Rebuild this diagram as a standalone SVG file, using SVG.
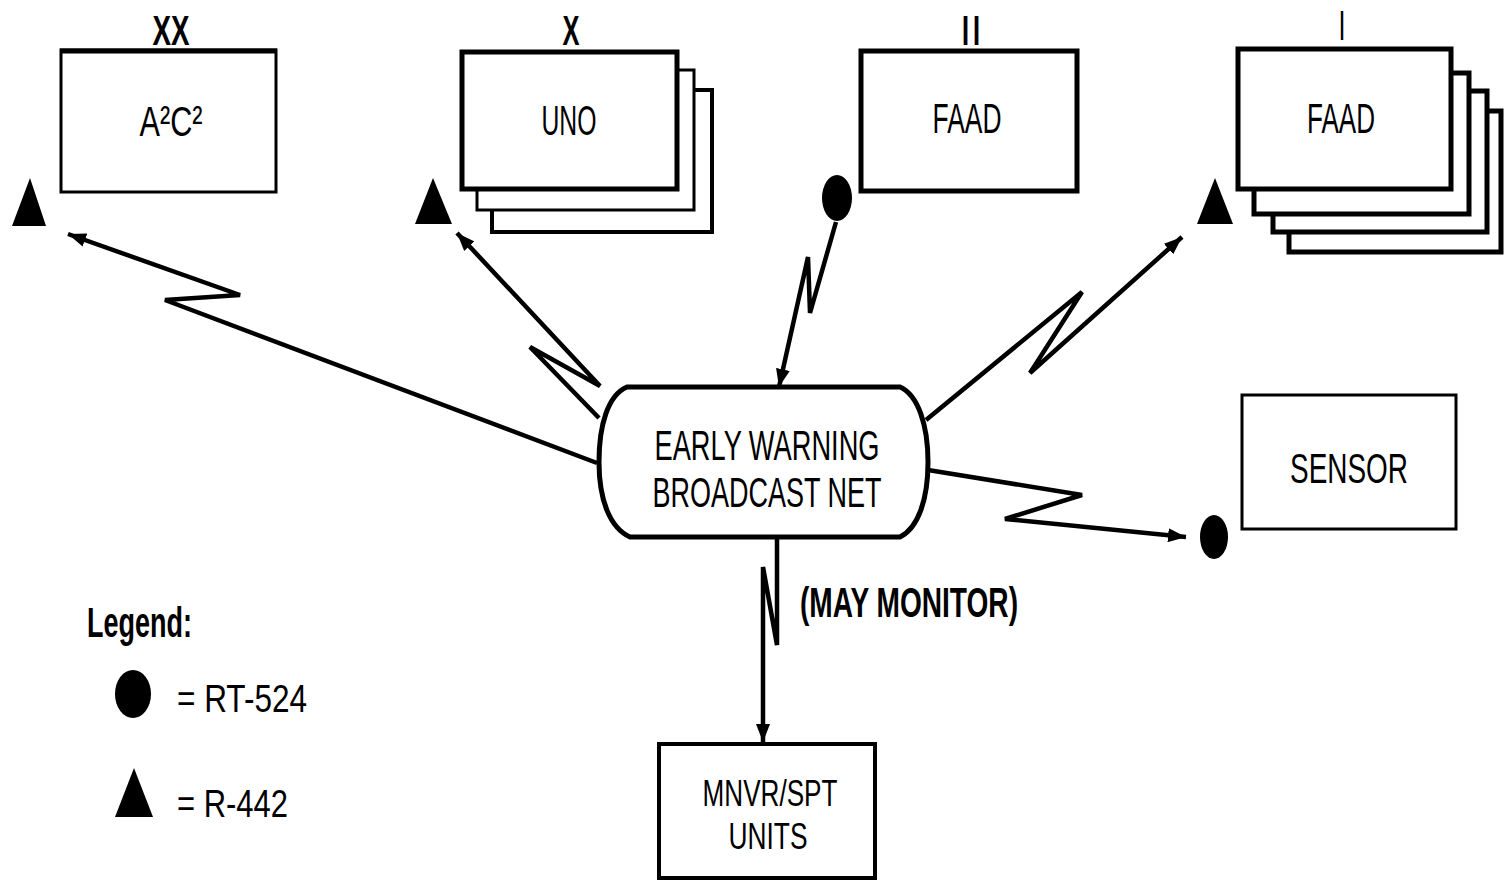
<svg xmlns="http://www.w3.org/2000/svg" width="1512" height="880" viewBox="0 0 1512 880">
<style>
.bx{fill:#fff;stroke:#000}
.t{font-family:"Liberation Sans",Arial,sans-serif;font-size:42px;fill:#000;text-anchor:middle}
.b{font-weight:bold}
.ln{fill:none;stroke:#000;stroke-width:4.5;stroke-linejoin:miter}
.sym{fill:#000}
</style>
<defs>
<marker id="ah" markerUnits="userSpaceOnUse" markerWidth="20" markerHeight="14" refX="18" refY="7" orient="auto-start-reverse">
<path d="M0,0 L18,7 L0,14 z" fill="#000"/>
</marker>
</defs>
<rect width="1512" height="880" fill="#fff"/>

<g id="a2c2">
<rect class="bx" x="61" y="50" width="215" height="142" stroke-width="3"/>
<line x1="60" y1="51" x2="277" y2="51" stroke="#000" stroke-width="5"/>
<text class="t b" x="171" y="45" textLength="37" lengthAdjust="spacingAndGlyphs">XX</text>
<text class="t" x="171" y="136" textLength="63" lengthAdjust="spacingAndGlyphs">A²C²</text>
<polygon class="sym" points="30,178 46,226 12,226"/>
</g>

<g id="uno">
<rect class="bx" x="492" y="90" width="220" height="142" stroke-width="4"/>
<rect class="bx" x="477" y="70" width="217" height="140" stroke-width="3"/>
<rect class="bx" x="462" y="52" width="215" height="137" stroke-width="5"/>
<text class="t b" x="571" y="45" textLength="17" lengthAdjust="spacingAndGlyphs">X</text>
<text class="t" x="569" y="135" textLength="55" lengthAdjust="spacingAndGlyphs">UNO</text>
<polygon class="sym" points="433,178 452,224 415,224"/>
</g>

<g id="faad2">
<rect class="bx" x="861" y="51" width="216" height="140" stroke-width="5"/>
<text class="t" x="971" y="45" textLength="22" lengthAdjust="spacingAndGlyphs">II</text>
<text class="t" x="967" y="133" textLength="69" lengthAdjust="spacingAndGlyphs">FAAD</text>
<ellipse class="sym" cx="837" cy="198" rx="15" ry="23"/>
</g>

<g id="faad1">
<rect class="bx" x="1289" y="111" width="212" height="141" stroke-width="5"/>
<rect class="bx" x="1273" y="91" width="214" height="141" stroke-width="5"/>
<rect class="bx" x="1254" y="73" width="215" height="141" stroke-width="5"/>
<rect class="bx" x="1238" y="49" width="213" height="140" stroke-width="5"/>
<text class="t" x="1342" y="40" textLength="7" lengthAdjust="spacingAndGlyphs">I</text>
<text class="t" x="1341" y="133" textLength="68" lengthAdjust="spacingAndGlyphs">FAAD</text>
<polygon class="sym" points="1215,178 1233,224 1197,224"/>
</g>

<g id="net">
<path class="bx" stroke-width="5" d="M627,387 H900 C918,395 928,425 928,462 C928,500 918,528 900,537 H630 C610,528 599,500 599,462 C599,425 608,395 627,387 Z"/>
<text class="t" x="767" y="460" textLength="225" lengthAdjust="spacingAndGlyphs">EARLY WARNING</text>
<text class="t" x="767" y="507" textLength="229" lengthAdjust="spacingAndGlyphs">BROADCAST NET</text>
</g>

<g id="sensor">
<rect class="bx" x="1242" y="395" width="214" height="134" stroke-width="3"/>
<text class="t" x="1349" y="483" textLength="118" lengthAdjust="spacingAndGlyphs">SENSOR</text>
<ellipse class="sym" cx="1214" cy="537" rx="14" ry="22"/>
</g>

<g id="mnvr">
<rect class="bx" x="659" y="744" width="216" height="134" stroke-width="4"/>
<text class="t" x="770" y="806" style="font-size:37px" textLength="135" lengthAdjust="spacingAndGlyphs">MNVR/SPT</text>
<text class="t" x="768" y="849" style="font-size:37px" textLength="79" lengthAdjust="spacingAndGlyphs">UNITS</text>
</g>

<g id="connectors">
<polyline class="ln" points="597,463 165,300 240,295 68,234" marker-end="url(#ah)"/>
<polyline class="ln" points="599,418 530,347 600,386 457,233" marker-end="url(#ah)"/>
<polyline class="ln" points="779,387 808,257 810,313 836,222" marker-start="url(#ah)"/>
<polyline class="ln" points="926,420 1082,292 1030,373 1182,237" marker-end="url(#ah)"/>
<polyline class="ln" points="928,470 1082,495 1005,519 1186,537" marker-end="url(#ah)"/>
<polyline class="ln" points="777,537 777,645 763,567 763,742" marker-end="url(#ah)"/>
<text class="t b" x="800" y="617" textLength="218" lengthAdjust="spacingAndGlyphs" style="text-anchor:start">(MAY MONITOR)</text>
</g>

<g id="legend">
<text class="t b" x="87" y="637" style="text-anchor:start" textLength="105" lengthAdjust="spacingAndGlyphs">Legend:</text>
<ellipse class="sym" cx="133" cy="694" rx="18" ry="24"/>
<text class="t" x="177" y="712" style="text-anchor:start;font-size:38px" textLength="130" lengthAdjust="spacingAndGlyphs">= RT-524</text>
<polygon class="sym" points="134,768 153,817 115,817"/>
<text class="t" x="177" y="817" style="text-anchor:start;font-size:38px" textLength="111" lengthAdjust="spacingAndGlyphs">= R-442</text>
</g>
</svg>
